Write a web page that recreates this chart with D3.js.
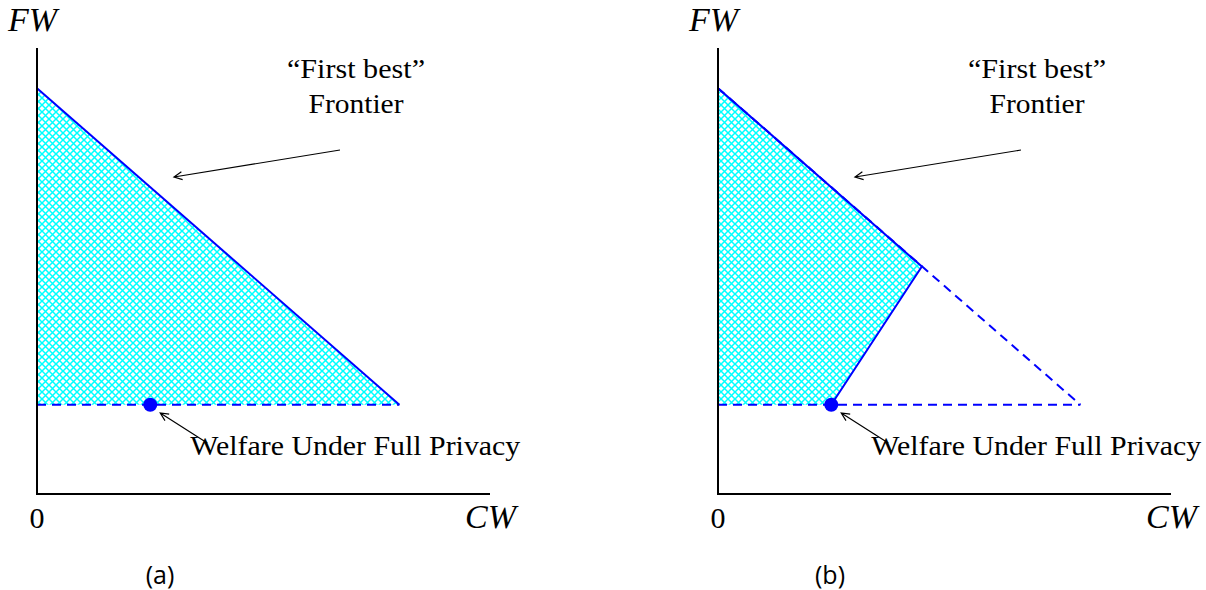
<!DOCTYPE html>
<html><head><meta charset="utf-8">
<script src="https://cdn.jsdelivr.net/npm/d3@7"></script>
<style>body{margin:0;background:#fff}svg{display:block}</style>
</head><body>
<script>
// ---- data ----
const panels = ["(a)", "(b)"];
const frontier = [[0, 9.1], [8, 2]];          // first-best frontier (CW, FW)
const baselineFW = 2;                          // FW under full privacy
const privacyPoint = [2.5, 2];                 // welfare under full privacy
const kinkPoint = [4.5, 5.1];                  // panel (b) constrained frontier kink
const axisLabels = {x: "CW", y: "FW", origin: "0"};
const frontierLabel = ["\u201CFirst best\u201D", "Frontier"];
const pointLabel = "Welfare Under Full Privacy";

const W = 1206, H = 590;
const svg = d3.select("body").append("svg").attr("width", W).attr("height", H);

const defs = svg.append("defs");
const pat = defs.append("pattern").attr("id", "hatch").attr("patternUnits", "userSpaceOnUse")
  .attr("width", 7).attr("height", 7);
pat.append("path").attr("d", "M-1,-1 L8,8 M-1,8 L8,-1")
  .attr("stroke", "#00ffff").attr("stroke-width", 1.5).attr("fill", "none");

const serif = "'Liberation Serif', 'DejaVu Serif', serif";

panels.forEach((lab, i) => {
  const ox = i === 0 ? 37 : 718;
  const x = d3.scaleLinear().domain([0, 10]).range([ox, ox + 453]);
  const y = d3.scaleLinear().domain([0, 10]).range([494, 48]);
  const g = svg.append("g");

  // fill region
  let poly;
  if (i === 0) poly = [[0, frontier[0][1]], frontier[1], [0, baselineFW]];
  else poly = [[0, frontier[0][1]], kinkPoint, privacyPoint, [0, baselineFW]];
  g.append("path").attr("d", d3.line().x(d => x(d[0])).y(d => y(d[1]))(poly) + "Z")
    .attr("fill", "url(#hatch)");

  // dashed baseline
  g.append("line").attr("x1", x(0)).attr("x2", x(frontier[1][0]))
    .attr("y1", y(baselineFW)).attr("y2", y(baselineFW))
    .attr("stroke", "#0000ff").attr("stroke-width", 2).attr("stroke-dasharray", "9,6");

  if (i === 0) {
    g.append("line").attr("x1", x(frontier[0][0])).attr("y1", y(frontier[0][1]))
      .attr("x2", x(frontier[1][0])).attr("y2", y(frontier[1][1]))
      .attr("stroke", "#0000ff").attr("stroke-width", 2);
  } else {
    g.append("line").attr("x1", x(frontier[0][0])).attr("y1", y(frontier[0][1]))
      .attr("x2", x(frontier[1][0])).attr("y2", y(frontier[1][1]))
      .attr("stroke", "#0000ff").attr("stroke-width", 2).attr("stroke-dasharray", "9,6");
    g.append("path").attr("d", d3.line().x(d => x(d[0])).y(d => y(d[1]))([[0, frontier[0][1]], kinkPoint, privacyPoint]))
      .attr("stroke", "#0000ff").attr("stroke-width", 2).attr("fill", "none");
  }

  // axes
  g.append("path").attr("d", `M${x(0)},${y(10)} V${y(0)} H${x(10)}`)
    .attr("stroke", "#000").attr("stroke-width", 2).attr("fill", "none");

  // point
  g.append("circle").attr("cx", x(privacyPoint[0])).attr("cy", y(privacyPoint[1])).attr("r", 7).attr("fill", "#0000ff");

  // arrows
  function arrow(x1, y1, x2, y2) {
    const a = Math.atan2(y2 - y1, x2 - x1), L = 9, s = 0.45;
    g.append("path").attr("d",
      `M${x1},${y1} L${x2},${y2} M${x2 - L * Math.cos(a - s)},${y2 - L * Math.sin(a - s)} L${x2},${y2} L${x2 - L * Math.cos(a + s)},${y2 - L * Math.sin(a + s)}`)
      .attr("stroke", "#000").attr("stroke-width", 1.2).attr("fill", "none");
  }
  arrow(ox + 303, 150, ox + 137, 177);
  arrow(x(privacyPoint[0]) + 57, 443, x(privacyPoint[0]) + 10, 413);

  // texts
  g.append("text").attr("x", x(0) - 29).attr("y", 31).text(axisLabels.y)
    .attr("font-family", serif).attr("font-style", "italic").attr("font-size", 34);
  g.append("text").attr("x", x(10) + 26).attr("y", 528).attr("text-anchor", "end").text(axisLabels.x)
    .attr("font-family", serif).attr("font-style", "italic").attr("font-size", 34);
  g.append("text").attr("x", x(0)).attr("y", 528).attr("text-anchor", "middle").text(axisLabels.origin)
    .attr("font-family", serif).attr("font-size", 30);
  const flen = [138, 95];
  frontierLabel.forEach((t, k) => {
    g.append("text").attr("x", ox + 319).attr("y", 78 + k * 35).attr("text-anchor", "middle").text(t)
      .attr("font-family", serif).attr("font-size", 27)
      .attr("textLength", flen[k]).attr("lengthAdjust", "spacingAndGlyphs");
  });
  g.append("text").attr("x", x(privacyPoint[0]) + 40).attr("y", 455).text(pointLabel)
    .attr("font-family", serif).attr("font-size", 27).attr("textLength", 330).attr("lengthAdjust", "spacingAndGlyphs");
  g.append("text").attr("x", i === 0 ? 160 : 830).attr("y", 584).attr("text-anchor", "middle").text(lab)
    .attr("font-family", "'Open Sans', 'Noto Sans', sans-serif").attr("font-size", 25);
});
</script>
</body></html>
